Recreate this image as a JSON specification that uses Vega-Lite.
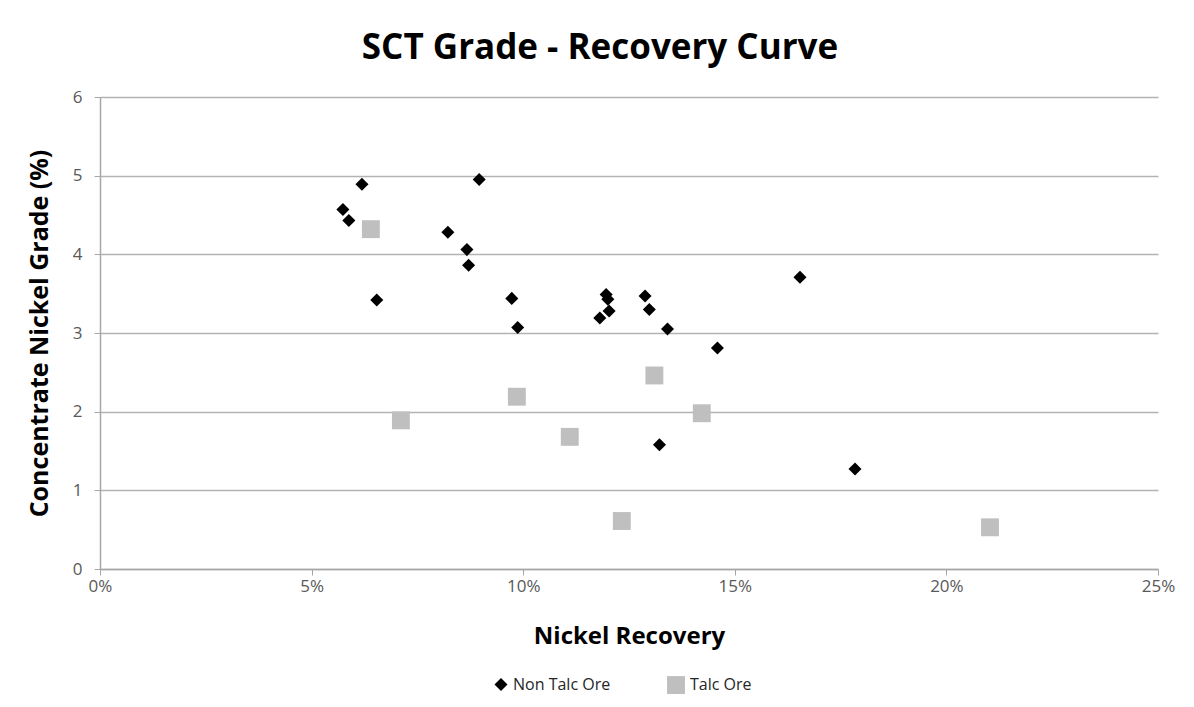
{
  "$schema": "https://vega.github.io/schema/vega-lite/v6.json",
  "autosize": {"type": "none"},
  "padding": {"left": 100, "top": 97, "right": 36, "bottom": 138},
  "width": 1058,
  "height": 472,
  "background": "white",
  "title": {
    "text": "SCT Grade - Recovery Curve",
    "font": "Open Sans",
    "fontSize": 35,
    "fontWeight": "bold",
    "color": "#000000",
    "dx": -29,
    "offset": 22
  },
  "config": {
    "view": {"stroke": null},
    "font": "Open Sans"
  },
  "data": {
    "values": [
      {"recovery": 0.0574, "grade": 4.57, "ore": "Non Talc Ore"},
      {"recovery": 0.0588, "grade": 4.43, "ore": "Non Talc Ore"},
      {"recovery": 0.0619, "grade": 4.89, "ore": "Non Talc Ore"},
      {"recovery": 0.0654, "grade": 3.42, "ore": "Non Talc Ore"},
      {"recovery": 0.0822, "grade": 4.28, "ore": "Non Talc Ore"},
      {"recovery": 0.0867, "grade": 4.06, "ore": "Non Talc Ore"},
      {"recovery": 0.0871, "grade": 3.86, "ore": "Non Talc Ore"},
      {"recovery": 0.0896, "grade": 4.95, "ore": "Non Talc Ore"},
      {"recovery": 0.0973, "grade": 3.44, "ore": "Non Talc Ore"},
      {"recovery": 0.0987, "grade": 3.07, "ore": "Non Talc Ore"},
      {"recovery": 0.1196, "grade": 3.49, "ore": "Non Talc Ore"},
      {"recovery": 0.1200, "grade": 3.43, "ore": "Non Talc Ore"},
      {"recovery": 0.1203, "grade": 3.28, "ore": "Non Talc Ore"},
      {"recovery": 0.1181, "grade": 3.19, "ore": "Non Talc Ore"},
      {"recovery": 0.1288, "grade": 3.47, "ore": "Non Talc Ore"},
      {"recovery": 0.1298, "grade": 3.30, "ore": "Non Talc Ore"},
      {"recovery": 0.1341, "grade": 3.05, "ore": "Non Talc Ore"},
      {"recovery": 0.1459, "grade": 2.81, "ore": "Non Talc Ore"},
      {"recovery": 0.1322, "grade": 1.58, "ore": "Non Talc Ore"},
      {"recovery": 0.1654, "grade": 3.71, "ore": "Non Talc Ore"},
      {"recovery": 0.1784, "grade": 1.27, "ore": "Non Talc Ore"},
      {"recovery": 0.0640, "grade": 4.32, "ore": "Talc Ore"},
      {"recovery": 0.0711, "grade": 1.89, "ore": "Talc Ore"},
      {"recovery": 0.0985, "grade": 2.19, "ore": "Talc Ore"},
      {"recovery": 0.1110, "grade": 1.68, "ore": "Talc Ore"},
      {"recovery": 0.1233, "grade": 0.61, "ore": "Talc Ore"},
      {"recovery": 0.1310, "grade": 2.46, "ore": "Talc Ore"},
      {"recovery": 0.1422, "grade": 1.98, "ore": "Talc Ore"},
      {"recovery": 0.2103, "grade": 0.53, "ore": "Talc Ore"}
    ]
  },
  "mark": {"type": "point", "filled": true, "opacity": 1},
  "encoding": {
    "x": {
      "field": "recovery",
      "type": "quantitative",
      "scale": {"domain": [0, 0.25], "nice": false, "zero": true},
      "axis": {
        "title": "Nickel Recovery",
        "format": ".0%",
        "values": [0, 0.05, 0.1, 0.15, 0.2, 0.25],
        "grid": false,
        "labelFlush": false,
        "domainColor": "#a6a6a6",
        "domainWidth": 1.5,
        "tickColor": "#a6a6a6",
        "tickSize": 6,
        "labelFontSize": 17,
        "labelColor": "#595959",
        "labelPadding": 3,
        "titleFontSize": 24,
        "titleFontWeight": "bold",
        "titleColor": "#000000",
        "titlePadding": 30
      }
    },
    "y": {
      "field": "grade",
      "type": "quantitative",
      "scale": {"domain": [0, 6], "nice": false},
      "axis": {
        "title": "Concentrate Nickel Grade (%)",
        "values": [0, 1, 2, 3, 4, 5, 6],
        "grid": true,
        "labelFlush": false,
        "gridColor": "#b3b3b3",
        "gridWidth": 1.5,
        "domainColor": "#a6a6a6",
        "domainWidth": 1.5,
        "tickColor": "#a6a6a6",
        "tickSize": 6,
        "labelFontSize": 17,
        "labelColor": "#595959",
        "labelPadding": 12,
        "titleFontSize": 25,
        "titleFontWeight": "bold",
        "titleColor": "#000000",
        "titlePadding": 20
      }
    },
    "shape": {
      "field": "ore",
      "type": "nominal",
      "scale": {"domain": ["Non Talc Ore", "Talc Ore"], "range": ["diamond", "square"]},
      "legend": null
    },
    "color": {
      "field": "ore",
      "type": "nominal",
      "scale": {"domain": ["Non Talc Ore", "Talc Ore"], "range": ["#000000", "#bfbfbf"]},
      "legend": {
        "title": null,
        "orient": "none",
        "direction": "horizontal",
        "legendX": 393,
        "legendY": 578,
        "labelFontSize": 16,
        "labelColor": "#262626",
        "symbolSize": 170,
        "columnPadding": 55
      }
    },
    "size": {
      "field": "ore",
      "type": "nominal",
      "scale": {"domain": ["Non Talc Ore", "Talc Ore"], "range": [170, 320]},
      "legend": null
    }
  }
}
